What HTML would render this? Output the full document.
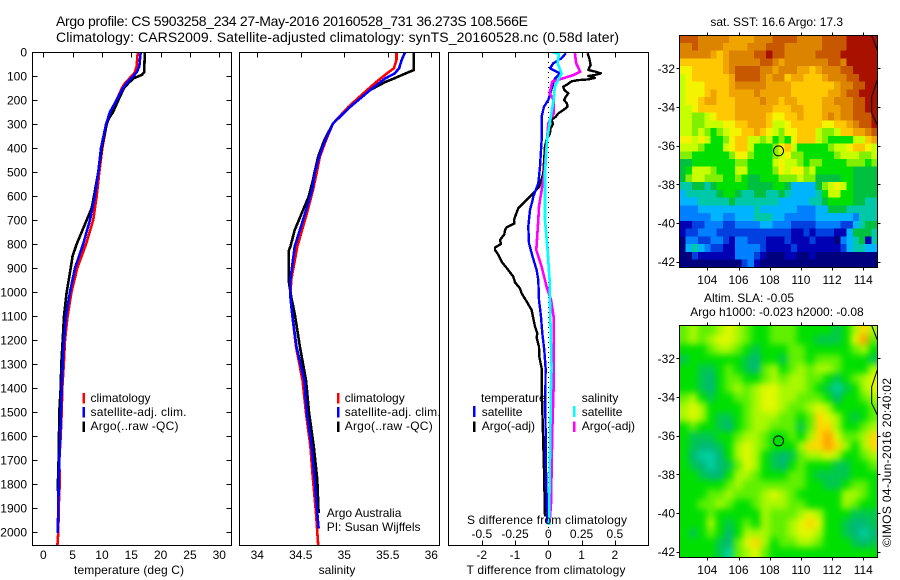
<!DOCTYPE html>
<html lang="en">
<head>
<meta charset="utf-8">
<title>Argo profile</title>
<style>
html,body{margin:0;padding:0;background:#fff;}
svg{display:block;font-family:"Liberation Sans",Arial,sans-serif;font-size:12px;fill:#000;}
</style>
</head>
<body>
<svg id="chart" xmlns="http://www.w3.org/2000/svg" width="900" height="580" viewBox="0 0 900 580">
<defs>
<clipPath id="clip-temp"><rect x="32.5" y="52" width="199" height="493"/></clipPath>
<clipPath id="clip-sal"><rect x="239.5" y="52" width="200" height="493"/></clipPath>
<clipPath id="clip-diff"><rect x="448.5" y="52" width="200" height="493"/></clipPath>
<clipPath id="clip-map1"><rect x="679.5" y="35.5" width="198" height="232"/></clipPath>
<clipPath id="clip-map2"><rect x="679.5" y="325.5" width="198" height="232"/></clipPath>
<filter id="smooth" x="-15%" y="-15%" width="130%" height="130%" color-interpolation-filters="sRGB"><feGaussianBlur stdDeviation="3.5"/></filter>
</defs>
<rect x="0" y="0" width="900" height="580" fill="#fff"/>

<text x="56" y="26" font-size="14" textLength="472">Argo profile: CS 5903258_234 27-May-2016 20160528_731 36.273S 108.566E</text>
<text x="56" y="42" font-size="14" textLength="563">Climatology: CARS2009. Satellite-adjusted climatology: synTS_20160528.nc (0.58d later)</text>

<g id="marks-temp" clip-path="url(#clip-temp)"></g>
<g id="marks-sal" clip-path="url(#clip-sal)"></g>
<g id="marks-diff" clip-path="url(#clip-diff)"></g>
<g id="map1-clip" clip-path="url(#clip-map1)"></g>
<g id="map2-clip" clip-path="url(#clip-map2)"><g id="map2-cells" filter="url(#smooth)"></g></g>
<g id="overlays"></g>
<g id="axes"></g>

<text x="129" y="574" text-anchor="middle" textLength="110">temperature (deg C)</text>
<text x="337" y="574" text-anchor="middle">salinity</text>
<text x="546" y="574" text-anchor="middle" textLength="159">T difference from climatology</text>
<text x="547" y="524" text-anchor="middle" textLength="160">S difference from climatology</text>

<g>
<rect x="82.5" y="393" width="2.5" height="10.5" fill="#ff0000"/>
<rect x="82.5" y="407" width="2.5" height="10.5" fill="#0000ff"/>
<rect x="82.5" y="421.5" width="2.5" height="10.5" fill="#000"/>
<text x="90.5" y="402">climatology</text>
<text x="90.5" y="416" textLength="96">satellite-adj. clim.</text>
<text x="90.5" y="430" textLength="88">Argo(..raw -QC)</text>
</g>
<g>
<rect x="337" y="393" width="2.5" height="10.5" fill="#ff0000"/>
<rect x="337" y="407" width="2.5" height="10.5" fill="#0000ff"/>
<rect x="337" y="421.5" width="2.5" height="10.5" fill="#000"/>
<text x="344.7" y="402">climatology</text>
<text x="344.7" y="416" textLength="96">satellite-adj. clim.</text>
<text x="344.7" y="430" textLength="88">Argo(..raw -QC)</text>
</g>
<g>
<text x="481" y="402">temperature</text>
<rect x="473" y="406" width="2.5" height="11" fill="#0000ff"/>
<rect x="473" y="421.5" width="2.5" height="10.5" fill="#000"/>
<text x="481.7" y="416">satellite</text>
<text x="481.7" y="430">Argo(-adj)</text>
<text x="581.7" y="402">salinity</text>
<rect x="573" y="406" width="2.5" height="11" fill="#00ffff"/>
<rect x="573" y="421.5" width="2.5" height="10.5" fill="#ff00ff"/>
<text x="581.7" y="416">satellite</text>
<text x="581.7" y="430">Argo(-adj)</text>
</g>
<text x="326.7" y="517">Argo Australia</text>
<text x="326.7" y="531">PI: Susan Wijffels</text>

<text x="776.7" y="26" text-anchor="middle">sat. SST: 16.6 Argo: 17.3</text>
<text x="749" y="302" text-anchor="middle">Altim. SLA: -0.05</text>
<text x="777" y="316" text-anchor="middle">Argo h1000: -0.023 h2000: -0.08</text>
<text transform="translate(891,547) rotate(-90)" textLength="169">©IMOS 04-Jun-2016 20:40:02</text>

<script>
const depthTicks = [0,100,200,300,400,500,600,700,800,900,1000,1100,1200,1300,1400,1500,1600,1700,1800,1900,2000];
const tempTicks = [0,5,10,15,20,25,30];
const salTicks = [34,34.5,35,35.5,36];
const tDiffTicks = [-2,-1,0,1,2];
const sDiffTicks = [-0.5,-0.25,0,0.25,0.5];
const lonTicks = [104,106,108,110,112,114];
const latTicks = [-32,-34,-36,-38,-40,-42];
const argoLon = 108.566;
const argoLat = -36.273;

const tempClimDepth = [0,60,85,100,130,150,200,250,300,400,500,600,700,800,900,1000,1100,1200,1300,1400,1500,1600,1700,1800,1900,2000,2055];
const tempClimValue = [16.1,15.9,15.6,15.07,13.9,13.4,12.5,11.65,10.8,10.06,9.55,9.1,8.5,7.3,5.8,4.8,4.15,3.7,3.5,3.24,3.13,2.96,2.73,2.79,2.62,2.56,2.4];
const tempSatDepth = [0,60,85,100,130,150,200,250,300,400,500,600,700,800,900,1000,1100,1200,1300,1400,1500,1600,1700,1800,1900,2005];
const tempSatValue = [16.6,16.36,15.9,15.35,14.2,13.6,12.5,11.37,10.7,9.83,9.38,8.8,7.96,6.8,5.4,4.55,3.87,3.53,3.3,3.13,3.0,2.9,2.73,2.6,2.56,2.45];
const tempArgoDepth = [0,85,95,110,130,150,200,250,280,300,400,500,600,650,700,750,800,850,900,1000,1100,1200,1300,1400,1500,1600,1700,1830];
const tempArgoValue = [17.3,17.2,16.8,15.35,14.5,13.75,12.8,11.9,11.1,10.8,9.95,9.38,8.64,8.25,7.4,6.55,5.7,5.0,4.67,3.98,3.53,3.3,3.07,2.96,2.73,2.68,2.6,2.45];

const salClimDepth = [0,33,68,89,124,172,228,298,367,436,506,575,672,811,950,1020,1090,1228,1367,1504,1644,1783,1921,2055];
const salClimValue = [35.6,35.6,35.57,35.49,35.37,35.22,35.05,34.87,34.79,34.72,34.68,34.64,34.57,34.46,34.39,34.38,34.4,34.445,34.52,34.56,34.61,34.64,34.675,34.7];
const salSatDepth = [0,33,68,89,110,158,228,298,367,436,506,575,672,811,950,1020,1090,1228,1367,1504,1644,1783,1921,1985];
const salSatValue = [35.7,35.66,35.63,35.58,35.47,35.3,35.07,34.87,34.78,34.71,34.66,34.63,34.55,34.43,34.38,34.38,34.4,34.45,34.54,34.57,34.625,34.66,34.69,34.705];
const salArgoDepth = [0,75,90,112,125,158,228,298,367,436,506,533,603,672,742,811,830,950,1020,1090,1228,1367,1504,1644,1783,1921];
const salArgoValue = [35.8,35.8,35.7,35.56,35.47,35.3,35.07,34.87,34.77,34.7,34.655,34.64,34.59,34.51,34.43,34.38,34.36,34.36,34.39,34.43,34.49,34.56,34.595,34.65,34.69,34.705];

const dtSatDepth = [5,26,47,68,89,110,130,200,228,269,367,478,547,603,617,658,728,797,853,908,950,1033,1103,1172,1242,1318,1464,1742,1964];
const dtSatValue = [0.53,0.4,0.15,0.05,0.35,0.2,0.15,0,-0.13,-0.2,-0.2,-0.25,-0.3,-0.45,-0.47,-0.55,-0.6,-0.58,-0.47,-0.35,-0.3,-0.28,-0.22,-0.18,-0.12,-0.08,-0.09,-0.07,-0.03];
const dtArgoDepth = [5,26,54,75,82,89,96,100,108,114,117,122,130,137,144,158,172,186,200,214,228,242,256,270,283,300,320,339,365,394,506,561,603,630,651,668,700,715,730,742,760,783,800,815,825,845,874,900,936,960,985,1006,1040,1075,1110,1144,1172,1190,1228,1270,1318,1394,1533,1742,1936];
const dtArgoValue = [1.18,1.23,1.27,1.2,1.42,1.58,1.4,1.2,1.4,1.2,0.9,0.7,0.62,0.55,0.45,0.48,0.6,0.53,0.47,0.56,0.58,0.45,0.3,0.22,0.1,0.14,0.06,0.05,-0.05,-0.1,-0.15,-0.27,-0.55,-0.75,-0.9,-0.95,-1.03,-1.02,-1.25,-1.3,-1.32,-1.45,-1.42,-1.6,-1.6,-1.5,-1.4,-1.25,-1.05,-1.0,-0.85,-0.8,-0.65,-0.5,-0.45,-0.4,-0.33,-0.35,-0.28,-0.27,-0.2,-0.2,-0.17,-0.13,-0.1];
const dsSatDepth = [0,5,10,47,89,110,144,200,298,367,506,658,700,825,950,1033,1172,1318,1394,1971];
const dsSatValue = [0.03,0.06,0.08,0.07,0.1,0.08,0.05,0.04,0.01,-0.01,-0.025,-0.025,-0.025,-0.005,0.01,0.012,0.018,0.025,0.02,0.005];
const dsArgoDepth = [5,47,82,96,110,123,172,200,256,297,367,506,644,700,825,894,985,1033,1103,1242,1394,1575,1742,1880,1964];
const dsArgoValue = [0.2,0.21,0.24,0.19,0.11,0.03,0.01,0.04,0.04,0,-0.01,-0.03,-0.07,-0.075,-0.09,-0.05,-0.01,0.02,0.04,0.04,0.04,0.03,0.025,0.02,0.01];

const coastLon = [114.54,114.9];
const coastLat = [-30.31,-31.05];
const coastLon2 = [114.9,114.54,114.54,114.9];
const coastLat2 = [-32.6,-33.47,-34.33,-34.93];

const sstGrid = [
[14,14,14,13,13,13,13,13,12,12,12,12,13,13,13,14,14,14,14,13,13,13,13,14,14,14,14,15,15,15,15,15],
[13,13,14,13,13,13,13,12,12,12,12,13,13,13,14,14,14,13,13,13,13,13,13,14,14,14,14,15,15,15,15,15],
[13,13,13,13,13,12,11,12,13,13,13,13,14,14,15,14,14,13,13,13,13,13,14,14,14,14,15,15,15,15,15,15],
[11,11,11,11,11,11,11,12,13,13,13,13,13,14,14,13,12,13,13,13,13,13,13,13,14,14,13,15,15,15,15,15],
[10,10,11,11,11,11,11,12,13,14,14,14,14,13,13,12,13,13,13,12,12,11,12,13,13,13,14,14,15,15,15,15],
[9,10,11,11,11,11,11,11,12,14,14,14,14,13,12,13,13,11,12,12,11,11,11,12,13,13,13,14,14,15,15,15],
[9,10,10,10,11,11,11,11,12,13,13,13,13,13,12,12,12,12,11,11,11,11,11,11,11,12,13,13,14,14,15,15],
[9,10,10,10,11,12,11,11,12,12,12,12,13,12,12,12,12,12,11,11,11,11,11,11,12,12,13,14,14,15,15,15],
[9,10,10,11,12,12,11,11,11,12,12,12,12,13,12,12,11,12,12,11,11,11,11,12,12,13,13,13,14,14,15,15],
[9,9,10,11,11,11,11,11,11,12,12,12,12,12,12,11,11,11,12,12,11,11,11,12,12,12,13,13,14,14,15,15],
[9,9,8,8,9,10,11,11,11,12,12,12,12,12,11,10,10,11,11,12,11,11,11,12,13,12,13,13,14,14,14,15],
[9,9,8,8,9,9,9,10,10,11,11,12,12,12,11,9,9,10,11,11,11,11,11,10,10,11,11,12,13,14,14,15],
[9,9,8,9,8,7,8,9,10,10,11,11,12,11,10,9,8,10,10,11,11,11,9,8,8,9,11,11,12,12,13,14],
[10,10,9,10,9,7,7,8,10,11,11,9,9,8,9,7,8,7,10,11,11,11,9,8,7,7,7,7,9,9,11,12],
[9,9,9,8,7,7,7,9,10,11,11,9,7,7,7,8,10,11,9,7,7,7,7,7,8,9,9,10,11,11,10,9],
[8,8,7,7,7,7,7,7,8,10,10,8,7,7,7,8,9,10,8,8,7,7,7,7,7,8,9,9,9,8,8,9],
[6,6,7,7,7,7,7,7,7,8,8,7,7,7,7,9,10,9,9,8,7,8,8,7,7,7,7,8,8,8,7,8],
[6,7,9,9,9,8,7,7,7,9,9,7,7,7,7,8,10,9,10,10,8,9,7,7,7,7,7,7,6,6,6,6],
[6,8,9,9,8,8,8,7,7,8,7,6,6,7,7,7,8,8,8,9,8,8,6,6,6,6,7,7,6,6,6,6],
[5,5,6,6,5,6,7,7,7,7,7,6,6,6,6,7,7,6,4,4,4,4,6,8,9,10,9,7,6,6,6,6],
[4,5,5,5,5,5,6,7,7,6,5,5,6,6,5,5,6,5,4,4,4,4,5,7,9,9,7,7,6,6,6,6],
[4,4,4,5,5,5,5,5,6,5,5,5,5,5,5,5,4,4,4,4,4,5,5,6,7,7,7,7,6,6,5,5],
[3,3,3,4,4,4,4,4,4,4,4,4,5,4,4,4,4,4,4,3,3,3,4,4,6,6,6,5,5,5,5,5],
[3,3,3,3,3,4,4,3,3,4,4,4,5,5,5,4,4,3,3,3,3,3,4,4,4,4,4,4,3,5,5,5],
[1,1,2,2,3,3,3,2,2,3,3,3,3,4,4,3,3,3,2,2,2,2,3,3,3,3,2,2,4,5,6,6],
[1,2,2,3,3,3,2,2,2,2,2,2,2,2,2,2,2,2,1,1,2,1,2,2,2,1,1,4,6,6,6,5],
[0,3,3,2,2,3,3,2,1,3,3,2,2,2,1,1,1,2,1,1,1,2,1,1,1,0,3,4,5,6,1,5],
[0,4,5,4,3,2,2,1,1,3,3,3,3,2,1,1,1,1,2,1,1,1,1,1,1,1,2,4,5,5,4,4],
[0,0,2,1,1,1,1,1,1,3,3,3,2,1,0,0,0,1,1,0,0,1,0,0,0,0,0,0,0,0,0,0],
[0,0,0,0,0,0,0,0,0,0,2,3,1,0,0,0,0,0,0,0,0,0,0,0,0,0,0,0,0,0,0,0]
];

const slaGrid = [
[4,5,4,4,5,6,5,4,3,3,4,4,4,3,3,3,3,2,3,5,7,5],
[4,5,4,5,6,6,5,4,3,3,4,4,4,3,3,2,2,2,3,6,8,4],
[3,3,3,4,5,5,4,3,2,3,3,3,4,4,3,3,3,3,3,4,5,3],
[2,3,3,3,3,3,3,2,1,3,3,2,4,4,3,4,4,4,3,3,3,2],
[3,3,2,2,3,4,3,2,1,4,5,3,4,5,4,5,5,4,3,3,3,5],
[3,3,2,1,3,4,4,3,3,4,5,4,5,5,4,4,3,2,3,4,5,6],
[3,3,2,1,3,4,5,4,5,6,6,5,5,5,4,3,2,0,2,3,5,6],
[4,5,3,2,3,3,4,4,5,6,6,5,5,4,4,4,3,1,3,3,4,5],
[5,6,5,3,3,3,3,4,5,6,6,5,4,4,5,6,5,3,3,3,3,4],
[5,6,5,3,2,2,3,4,5,5,5,4,4,3,4,7,6,5,3,2,3,4],
[3,4,3,3,2,1,3,4,5,5,4,4,4,2,4,7,7,5,3,3,4,5],
[3,2,2,2,3,3,4,5,5,4,3,3,4,3,5,7,8,6,4,4,5,7],
[3,2,1,1,2,3,5,6,5,4,3,3,3,5,7,7,8,7,5,3,5,7],
[3,1,0,0,1,3,5,6,5,3,2,1,2,4,5,5,6,5,3,3,4,5],
[3,2,1,0,1,2,4,6,5,3,2,1,3,4,3,3,3,2,2,3,3,4],
[3,3,2,1,1,3,5,5,4,3,3,3,4,4,3,2,2,2,2,3,3,3],
[3,3,3,3,3,4,5,4,4,4,4,4,4,4,3,3,2,2,3,4,4,3],
[3,3,3,4,4,5,4,4,4,5,6,5,4,3,3,3,3,3,5,5,4,3],
[3,3,4,4,5,4,3,3,4,5,5,5,4,4,3,3,3,3,5,4,3,3],
[3,3,3,4,3,3,3,3,3,5,4,4,4,5,6,5,3,3,3,2,2,2],
[3,3,3,5,3,2,3,4,3,5,4,4,5,6,7,6,3,3,2,1,1,2],
[3,2,3,4,3,1,3,5,5,5,4,4,5,6,6,5,3,3,2,1,0,1],
[3,3,3,3,2,1,4,6,7,5,3,4,4,5,5,4,3,3,3,2,1,2],
[3,3,3,3,2,0,4,5,6,4,3,3,3,3,3,3,3,3,3,3,3,3]
];

const sstPalette = ['#00007f','#0000b4','#0040e0','#0080ff','#00b4ff','#00c8a8','#00c040','#00e000','#80f000','#c8ff00','#f4f400','#ffc800','#f0a400','#dc8400','#c85800','#a81000'];
const slaPalette = ['#00d0a0','#00b878','#00c850','#00e000','#60f000','#a8f800','#e0f800','#ffd800','#ffa000','#ff8000'];

const NS = 'http://www.w3.org/2000/svg';
const xTemp = v => 43.3 + v * 5.867;
const xSal = v => 257.3 + (v - 34) * 87;
const xDT = v => 548.3 + v * 33.3;
const xDS = v => 548.3 + v * 133;
const yDepth = d => 52 + d * 0.24;
const xLon = v => 707.3 + (v - 104) * 15.6;
const yLat1 = v => 68.3 + (-32 - v) * 19.33;
const yLat2 = v => 358.3 + (-32 - v) * 19.33;

function make(tag, attrs, parent) {
  const e = document.createElementNS(NS, tag);
  for (const k in attrs) e.setAttribute(k, attrs[k]);
  parent.appendChild(e);
  return e;
}
function tickLine(parent, x1, y1, x2, y2) {
  const t = make('line', {x1, y1, x2, y2, stroke: '#000', 'stroke-width': 1, 'shape-rendering': 'crispEdges'}, parent);
  
  
}
function tickText(parent, x, y, str, anchor) {
  const t = make('text', {x, y, 'text-anchor': anchor}, parent);
  t.textContent = str;
  
  
}
function frame(parent, x, y, w, h) {
  const r = make('rect', {x, y, width: w, height: h, fill: 'none', stroke: '#000', 'stroke-width': 1, 'shape-rendering': 'crispEdges'}, parent);
  
  
}
function drawProfile(parent, depths, values, xFn, color, width) {
  const pts = depths.map((d, i) => xFn(values[i]).toFixed(1) + ',' + yDepth(d).toFixed(1)).join(' ');
  const p = make('polyline', {points: pts, fill: 'none', stroke: color, 'stroke-width': width, 'stroke-linejoin': 'round', 'shape-rendering': 'crispEdges'}, parent);
  
  
}
function drawGrid(parent, grid, palette, yLatFn, pad) {
  const left = 679.5, right = 877.5;
  const top = yLatFn(-30.29), bottom = top + 232;
  const rowH = (bottom - top) / grid.length;
  grid.forEach((row, r) => {
    const colW = (right - left) / row.length;
    row.forEach((v, c) => {
      const lvl = Math.max(0, Math.min(palette.length - 1, Math.round(v)));
      let x = left + c * colW, y = top + r * rowH, w = colW + 0.5, h = rowH + 0.5;
      if (pad) {
        if (c === 0) { x -= pad; w += pad; }
        if (c === row.length - 1) { w += pad; }
        if (r === 0) { y -= pad; h += pad; }
        if (r === grid.length - 1) { h += pad; }
      }
      const cell = make('rect', {x: x.toFixed(2), y: y.toFixed(2), width: w.toFixed(2), height: h.toFixed(2), fill: palette[lvl], 'shape-rendering': 'crispEdges'}, parent);
      
      
    });
  });
}

const axes = document.getElementById('axes');
const overlays = document.getElementById('overlays');
const mTemp = document.getElementById('marks-temp');
const mSal = document.getElementById('marks-sal');
const mDiff = document.getElementById('marks-diff');

drawProfile(mTemp, tempClimDepth, tempClimValue, xTemp, '#ff0000', 2.6);
drawProfile(mTemp, tempArgoDepth, tempArgoValue, xTemp, '#000000', 2.6);
drawProfile(mTemp, tempSatDepth, tempSatValue, xTemp, '#0000ff', 2.6);
drawProfile(mSal, salClimDepth, salClimValue, xSal, '#ff0000', 2.6);
drawProfile(mSal, salArgoDepth, salArgoValue, xSal, '#000000', 2.6);
drawProfile(mSal, salSatDepth, salSatValue, xSal, '#0000ff', 2.6);

const zeroLine = make('line', {x1: xDT(0), y1: 52, x2: xDT(0), y2: 545, stroke: '#000', 'stroke-width': 1, 'stroke-dasharray': '1 4', 'shape-rendering': 'crispEdges'}, mDiff);


drawProfile(mDiff, dtArgoDepth, dtArgoValue, xDT, '#000000', 2.4);
drawProfile(mDiff, dtSatDepth, dtSatValue, xDT, '#0000ff', 2.4);
drawProfile(mDiff, dsArgoDepth, dsArgoValue, xDS, '#ff00ff', 2.6);
drawProfile(mDiff, dsSatDepth, dsSatValue, xDS, '#00ffff', 2.6);

drawGrid(document.getElementById('map1-clip'), sstGrid, sstPalette, yLat1, 0);
drawGrid(document.getElementById('map2-cells'), slaGrid, slaPalette, yLat2, 24);

frame(axes, 32.5, 52.5, 199, 493);
frame(axes, 239.5, 52.5, 200, 493);
frame(axes, 448.5, 52.5, 200, 493);
frame(axes, 679.5, 35.5, 198, 232);
frame(axes, 679.5, 325.5, 198, 232);

depthTicks.forEach(d => {
  const y = Math.round(yDepth(d)) + 0.5;
  tickLine(axes, 32.5, y, 37.5, y);
  tickLine(axes, 226.5, y, 231.5, y);
  tickText(axes, 27, yDepth(d) + 4.5, String(d), 'end');
});
tempTicks.forEach(v => {
  const x = Math.round(xTemp(v)) + 0.5;
  tickLine(axes, x, 52.5, x, 57.5);
  tickText(axes, xTemp(v), 559, String(v), 'middle');
});
salTicks.forEach(v => {
  const x = Math.round(xSal(v)) + 0.5;
  tickLine(axes, x, 52.5, x, 57.5);
  tickText(axes, xSal(v), 559, String(v), 'middle');
});
tDiffTicks.forEach(v => {
  const x = Math.round(xDT(v)) + 0.5;
  tickLine(axes, x, 52.5, x, 57.5);
  tickLine(axes, x, 540.5, x, 545.5);
  tickText(axes, xDT(v), 559, String(v), 'middle');
});
sDiffTicks.forEach(v => {
  tickText(axes, xDS(v), 538, String(v), 'middle');
});
[[yLat1, 35.5, 267.5, 284], [yLat2, 325.5, 557.5, 574]].forEach(cfg => {
  const latFn = cfg[0], top = cfg[1], bottom = cfg[2], labelY = cfg[3];
  lonTicks.forEach(v => {
    const x = Math.round(xLon(v)) + 0.5;
    tickLine(axes, x, top - 3, x, top);
    tickLine(axes, x, bottom, x, bottom + 3);
    tickText(axes, xLon(v), labelY, String(v), 'middle');
  });
  latTicks.forEach(v => {
    const y = Math.round(latFn(v)) + 0.5;
    tickLine(axes, 676.5, y, 679.5, y);
    tickLine(axes, 877.5, y, 880.5, y);
    tickText(axes, 675, latFn(v) + 4.5, String(v), 'end');
  });
  [[coastLon, coastLat], [coastLon2, coastLat2]].forEach(seg => {
    const pts = seg[0].map((lon, i) => xLon(lon).toFixed(1) + ',' + latFn(seg[1][i]).toFixed(1)).join(' ');
    const coast = make('polyline', {points: pts, fill: 'none', stroke: '#000', 'stroke-width': 1}, overlays);
    
    
  });
  const marker = make('circle', {cx: xLon(argoLon), cy: latFn(argoLat), r: 5, fill: 'none', stroke: '#000', 'stroke-width': 1}, overlays);
  
  
});
</script>
</svg>
</body>
</html>
